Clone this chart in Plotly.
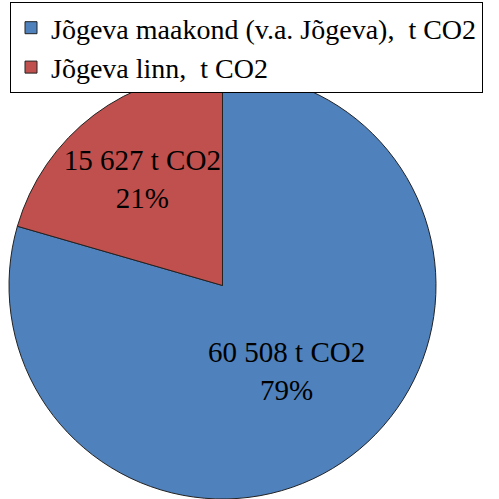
import plotly.graph_objects as go

labels = ["Jõgeva maakond (v.a. Jõgeva),  t CO2", "Jõgeva linn,  t CO2"]
values = [60508, 15627]
colors = ["#4F81BD", "#C0504D"]

FONT = "'Liberation Serif', 'Times New Roman', serif"
W = H = 499
fig = go.Figure(go.Pie(
    labels=labels,
    values=values,
    sort=False,
    direction="clockwise",
    rotation=0,
    marker=dict(colors=colors, line=dict(color="#222222", width=1)),
    texttemplate="%{value:,} t CO2<br>%{percent:.0%}",
    textposition="inside",
    insidetextorientation="horizontal",
    textfont=dict(family=FONT, size=29, color="black"),
    domain=dict(x=[8 / W, 437 / W], y=[0, (H - 72) / H]),
    hoverinfo="none",
))

fig.update_layout(
    width=W, height=H,
    margin=dict(l=0, r=0, t=0, b=0),
    separators=", ",
    paper_bgcolor="white",
    showlegend=True,
    uniformtext=dict(minsize=29, mode="show"),
    legend=dict(
        x=10 / W, y=1 - 2 / H, xanchor="left", yanchor="top",
        bordercolor="black", borderwidth=1,
        font=dict(family=FONT, size=28, color="black"),
        itemwidth=30, tracegroupgap=0,
        bgcolor="white",
    ),
)

fig.write_html("out.html", config={"displayModeBar": False},
               post_script="document.body.style.margin='0';")
